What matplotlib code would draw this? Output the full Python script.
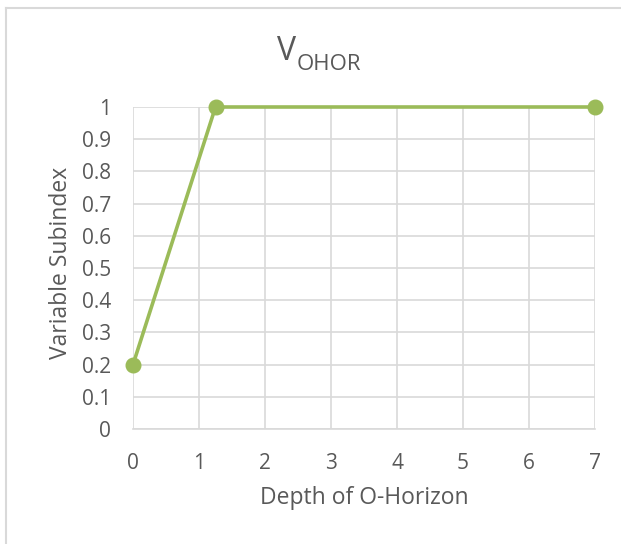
import matplotlib.pyplot as plt
from matplotlib.lines import Line2D

# data
depth = [0, 1.25, 7]
subindex = [0.2, 1, 1]
x_ticks = [0, 1, 2, 3, 4, 5, 6, 7]
y_ticks = [0, 0.1, 0.2, 0.3, 0.4, 0.5, 0.6, 0.7, 0.8, 0.9, 1]
y_tick_labels = ["0", "0.1", "0.2", "0.3", "0.4", "0.5", "0.6", "0.7", "0.8", "0.9", "1"]

GREEN = "#9BBB59"
GRID = "#D9D9D9"
TXT = "#595959"
W, H = 621, 544

plt.rcParams["font.family"] = ["Open Sans", "DejaVu Sans"]

fig = plt.figure(figsize=(W / 100, H / 100), dpi=100)
ax = fig.add_axes([133 / W, 1 - 429 / H, (595 - 133) / W, (429 - 107) / H])

ax.plot(depth, subindex, color=GREEN, lw=2.6, marker="o", markersize=10.5,
        solid_capstyle="round", clip_on=False, zorder=3)

ax.set_xlim(0, 7)
ax.set_ylim(0, 1)
ax.set_xticks(x_ticks)
ax.set_yticks(y_ticks)
ax.set_yticklabels(y_tick_labels)
ax.grid(True, color=GRID, lw=1.2)
for s in ["top", "right", "left"]:
    ax.spines[s].set_visible(False)
ax.spines["bottom"].set_color(GRID)
ax.spines["bottom"].set_linewidth(1.2)
ax.tick_params(length=0, colors=TXT, labelsize=15)
ax.tick_params(axis="x", pad=17)
ax.tick_params(axis="y", pad=16)

ax.set_xlabel("Depth of O-Horizon", fontsize=16.5, color=TXT)
ax.xaxis.set_label_coords(0.5, (429 - 498) / 322)
ax.xaxis.label.set_va("center")
ax.set_ylabel("Variable Subindex", fontsize=16.5, color=TXT)
ax.yaxis.set_label_coords((61 - 133) / 462, 0.5 + (429 - 263 - 161) / 322)
ax.yaxis.label.set_va("center")

# title: V with subscript
fig.text(296 / W, 1 - 52 / H, "V", fontsize=23, color=TXT, ha="right", va="center")
fig.text(297 / W, 1 - 65 / H, "OHOR", fontsize=16, color=TXT, ha="left", va="center")

# chart border (partly visible)
fig.add_artist(Line2D([6 / W, 6 / W], [0, 1 - 8 / H], transform=fig.transFigure, color=GRID, lw=1.5))
fig.add_artist(Line2D([6 / W, 1], [1 - 8 / H, 1 - 8 / H], transform=fig.transFigure, color=GRID, lw=1.5))

fig.savefig("out.png", dpi=100)
